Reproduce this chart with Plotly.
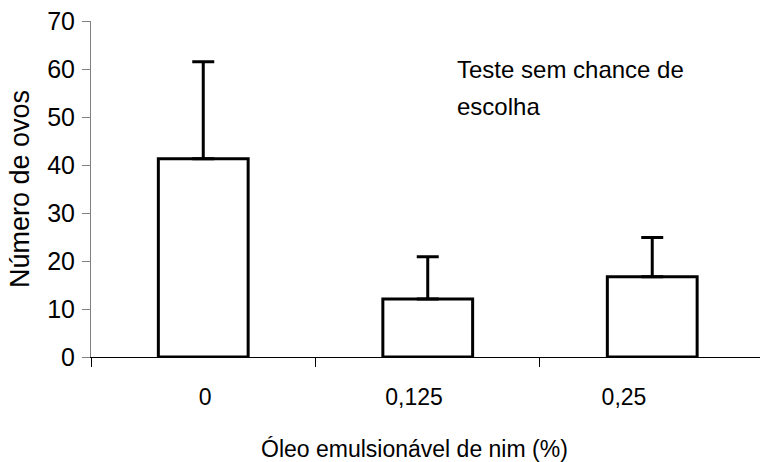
import plotly.graph_objects as go

categories = ["0", "0,125", "0,25"]
means = [41.3, 12.1, 16.7]
errors_up = [20.2, 8.8, 8.2]
y_ticks = [0, 10, 20, 30, 40, 50, 60, 70]

FONT = "Liberation Sans, Arial, sans-serif"
pos = list(range(len(categories)))

fig = go.Figure()
fig.add_trace(go.Bar(
    x=pos, y=means, width=0.4,
    marker=dict(color="white", line=dict(color="black", width=3)),
    error_y=dict(type="data", symmetric=False, array=errors_up,
                 arrayminus=[0] * len(means), color="black", thickness=3, width=11),
    showlegend=False,
))
# invisible trace to activate the label axis
fig.add_trace(go.Scatter(x=pos, y=means, xaxis="x2", mode="markers",
                         marker=dict(opacity=0), hoverinfo="skip", showlegend=False))

fig.update_layout(
    width=760, height=462,
    margin=dict(l=91, r=0, t=21, b=105),
    plot_bgcolor="white", paper_bgcolor="white",
    font=dict(family=FONT, size=23, color="black"),
    xaxis=dict(range=[-0.5, 2.48], tickvals=[-0.5, 0.5, 1.5], ticks="outside", ticklen=9,
               tickcolor="black", tickwidth=1, showticklabels=False, showline=True,
               linecolor="black", linewidth=1, showgrid=False, zeroline=False),
    xaxis2=dict(range=[-0.5, 2.48], overlaying="x", side="bottom",
                tickvals=[0.008, 0.939, 1.874], ticktext=categories, ticks="",
                tickfont=dict(size=23),
                showline=False, showgrid=False, zeroline=False, ticklabelstandoff=24),
    yaxis=dict(range=[0, 70], tickvals=y_ticks, ticks="outside", ticklen=8,
               tickcolor="#808080", showline=True, linecolor="#808080", linewidth=1,
               showgrid=False, zeroline=False, tickfont=dict(size=25),
               ticklabelstandoff=2,
               title=dict(text="Número de ovos", standoff=9, font=dict(size=27))),
    annotations=[
        dict(text="Teste sem chance de", x=1.122, y=59.85, xref="x", yref="y",
             xanchor="left", yanchor="middle", align="left", showarrow=False,
             font=dict(size=24)),
        dict(text="escolha", x=1.122, y=52.2, xref="x", yref="y",
             xanchor="left", yanchor="middle", align="left", showarrow=False,
             font=dict(size=24)),
        dict(text="Óleo emulsionável de nim (%)", x=0.484, y=-(449 - 357) / 336,
             xref="paper", yref="paper", yanchor="middle",
             showarrow=False, font=dict(size=23)),
    ],
)
fig.write_html("out.html")
